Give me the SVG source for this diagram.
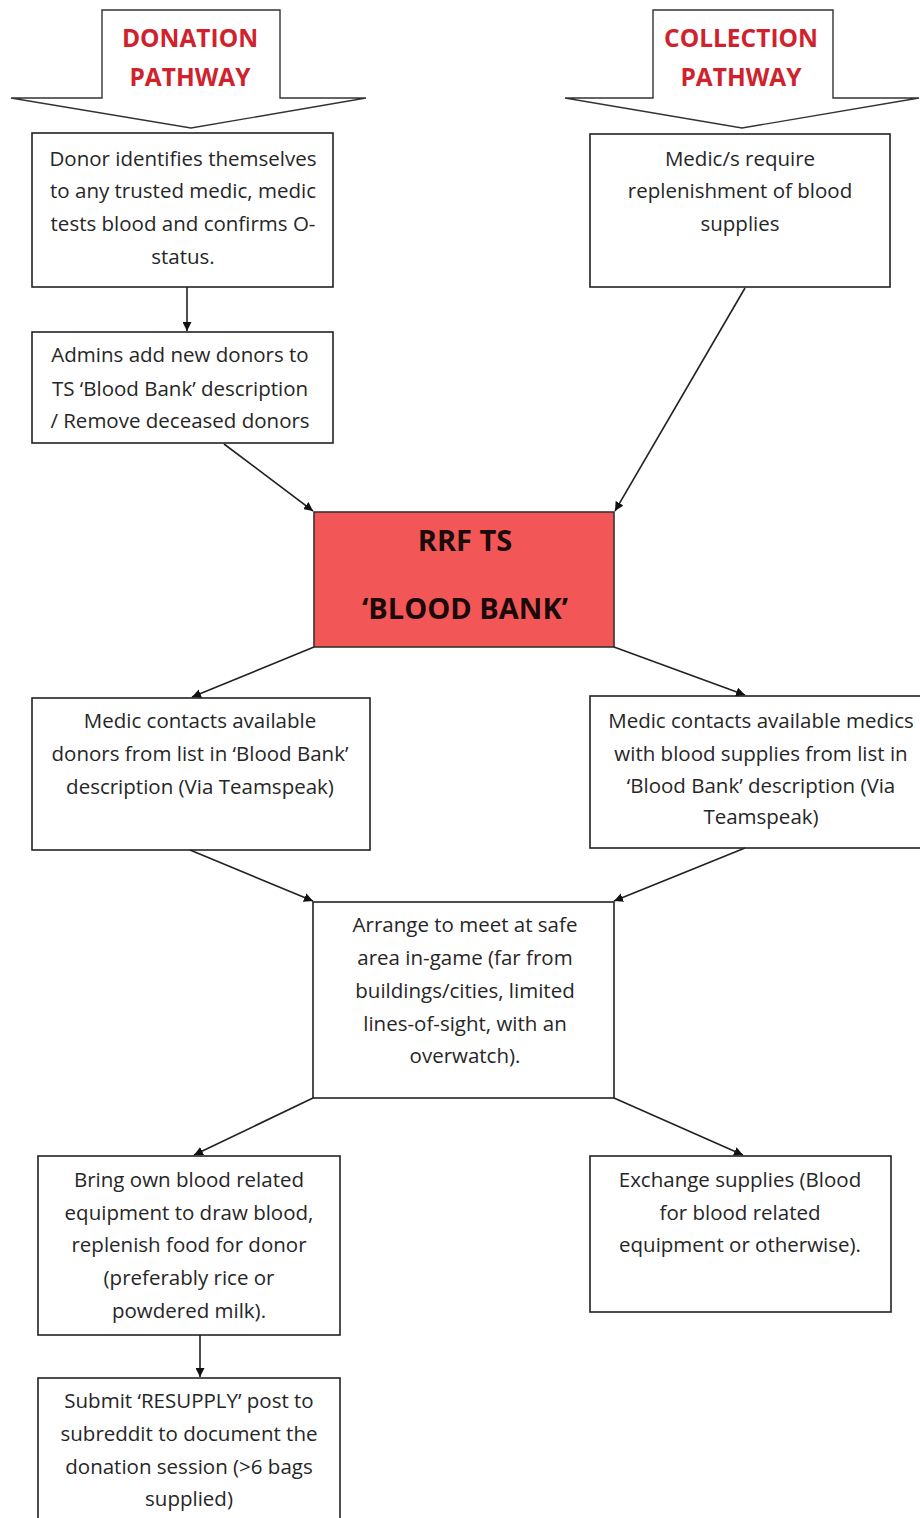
<svg xmlns="http://www.w3.org/2000/svg" width="920" height="1518" viewBox="0 0 920 1518">
<style>
.box{fill:#fff;stroke:#222;stroke-width:1.6}
.bank{fill:#f25656;stroke:#333;stroke-width:1.6}
.blk{fill:#fff;stroke:#333;stroke-width:1.4}
.t{font-family:"Open Sans","Noto Sans",sans-serif;font-size:20.5px;fill:#262626;text-anchor:middle}
.h{font-family:"Open Sans","Noto Sans",sans-serif;font-size:24.5px;font-weight:bold;fill:#d0222c;text-anchor:middle}
.b{font-family:"Open Sans","Noto Sans",sans-serif;font-size:29px;font-weight:bold;fill:#1a0a0a;text-anchor:middle}
.c{stroke:#222;stroke-width:1.6;fill:none;marker-end:url(#ah)}
</style>
<defs>
<marker id="ah" viewBox="0 0 10 10" refX="10" refY="5" markerWidth="9" markerHeight="9" markerUnits="userSpaceOnUse" orient="auto">
<path d="M0,0 L10,5 L0,10 z" fill="#111"/>
</marker>
</defs>
<rect width="920" height="1518" fill="#fff"/>
<g id="donation-pathway">
<path class="blk" d="M102,10 L280,10 L280,98 L366,98 L191,128 L11,98 L102,98 Z"/>
<text class="h" x="190" y="47">DONATION</text>
<text class="h" x="190" y="86">PATHWAY</text>
</g>
<g id="collection-pathway">
<path class="blk" d="M653,10 L833,10 L833,98 L919,98 L742,128 L565,98 L653,98 Z"/>
<text class="h" x="741" y="47">COLLECTION</text>
<text class="h" x="741" y="86">PATHWAY</text>
</g>
<g id="donor-identifies">
<rect class="box" x="32" y="133" width="301" height="154"/>
<text class="t" x="183" y="166">Donor identifies themselves</text>
<text class="t" x="183" y="198">to any trusted medic, medic</text>
<text class="t" x="183" y="231">tests blood and confirms O-</text>
<text class="t" x="183" y="264">status.</text>
</g>
<g id="medics-require">
<rect class="box" x="590" y="134" width="300" height="153"/>
<text class="t" x="740" y="166">Medic/s require</text>
<text class="t" x="740" y="198">replenishment of blood</text>
<text class="t" x="740" y="231">supplies</text>
</g>
<g id="admins-add">
<rect class="box" x="32" y="332" width="301" height="111"/>
<text class="t" x="180" y="362">Admins add new donors to</text>
<text class="t" x="180" y="396">TS ‘Blood Bank’ description</text>
<text class="t" x="180" y="428">/ Remove deceased donors</text>
</g>
<g id="blood-bank">
<rect class="bank" x="314" y="512" width="300" height="135"/>
<text class="b" x="465" y="551">RRF TS</text>
<text class="b" x="465" y="619">‘BLOOD BANK’</text>
</g>
<g id="medic-contacts-donors">
<rect class="box" x="32" y="698" width="338" height="152"/>
<text class="t" x="200" y="728">Medic contacts available</text>
<text class="t" x="200" y="761">donors from list in ‘Blood Bank’</text>
<text class="t" x="200" y="794">description (Via Teamspeak)</text>
</g>
<g id="medic-contacts-medics">
<rect class="box" x="590" y="696" width="332" height="152"/>
<text class="t" x="761" y="728">Medic contacts available medics</text>
<text class="t" x="761" y="761">with blood supplies from list in</text>
<text class="t" x="761" y="793">‘Blood Bank’ description (Via</text>
<text class="t" x="761" y="824">Teamspeak)</text>
</g>
<g id="arrange-meet">
<rect class="box" x="313" y="902" width="301" height="196"/>
<text class="t" x="465" y="932">Arrange to meet at safe</text>
<text class="t" x="465" y="965">area in-game (far from</text>
<text class="t" x="465" y="998">buildings/cities, limited</text>
<text class="t" x="465" y="1031">lines-of-sight, with an</text>
<text class="t" x="465" y="1063">overwatch).</text>
</g>
<g id="bring-equipment">
<rect class="box" x="38" y="1156" width="302" height="179"/>
<text class="t" x="189" y="1187">Bring own blood related</text>
<text class="t" x="189" y="1220">equipment to draw blood,</text>
<text class="t" x="189" y="1252">replenish food for donor</text>
<text class="t" x="189" y="1285">(preferably rice or</text>
<text class="t" x="189" y="1318">powdered milk).</text>
</g>
<g id="exchange-supplies">
<rect class="box" x="590" y="1156" width="301" height="156"/>
<text class="t" x="740" y="1187">Exchange supplies (Blood</text>
<text class="t" x="740" y="1220">for blood related</text>
<text class="t" x="740" y="1252">equipment or otherwise).</text>
</g>
<g id="submit-resupply">
<rect class="box" x="38" y="1378" width="302" height="150"/>
<text class="t" x="189" y="1408">Submit ‘RESUPPLY’ post to</text>
<text class="t" x="189" y="1441">subreddit to document the</text>
<text class="t" x="189" y="1474">donation session (&gt;6 bags</text>
<text class="t" x="189" y="1506">supplied)</text>
</g>
<g id="connectors">
<line class="c" x1="187" y1="287" x2="187" y2="331"/>
<line class="c" x1="224" y1="444" x2="313" y2="511"/>
<line class="c" x1="745" y1="288" x2="615" y2="511"/>
<line class="c" x1="314" y1="647" x2="192" y2="697"/>
<line class="c" x1="614" y1="647" x2="745" y2="695"/>
<line class="c" x1="190" y1="850" x2="313" y2="901"/>
<line class="c" x1="745" y1="848" x2="614" y2="901"/>
<line class="c" x1="313" y1="1098" x2="194" y2="1155"/>
<line class="c" x1="614" y1="1098" x2="743" y2="1155"/>
<line class="c" x1="200" y1="1335" x2="200" y2="1377"/>
</g>
</svg>
